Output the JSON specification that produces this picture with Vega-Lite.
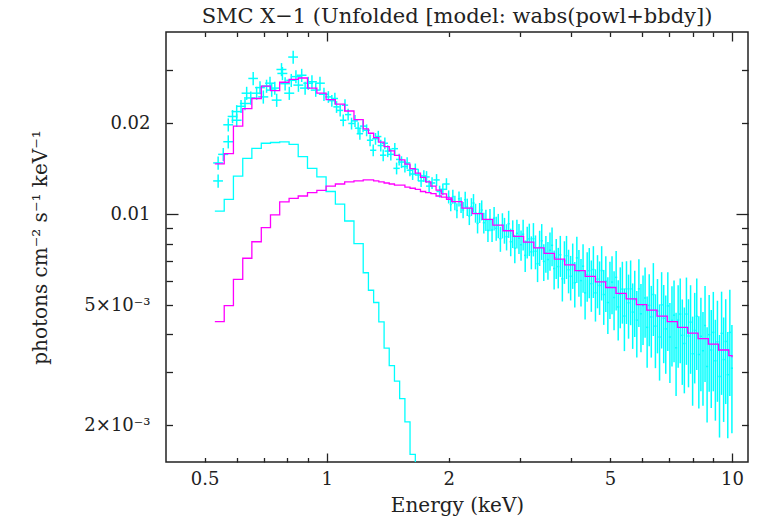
{
  "$schema": "https://vega.github.io/schema/vega-lite/v6.json",
  "width": 582,
  "height": 430,
  "autosize": {"type": "none"},
  "padding": {"left": 166, "top": 32, "right": 12, "bottom": 56},
  "background": "white",
  "config": {
    "view": {"stroke": "#222", "strokeWidth": 1.5},
    "font": "DejaVu Serif",
    "axis": {"grid": false, "domain": false, "labelFont": "DejaVu Serif", "titleFont": "DejaVu Serif", "labelColor": "#222", "titleColor": "#222", "titleFontWeight": "normal", "tickColor": "#222", "tickWidth": 1.3}
  },
  "title": {"text": "SMC X−1 (Unfolded [model: wabs(powl+bbdy])", "font": "DejaVu Serif", "fontSize": 21, "fontWeight": "normal", "color": "#222", "anchor": "middle", "frame": "group", "baseline": "alphabetic", "offset": -13},
  "datasets": {
    "pts": [
      {"e":0.540,"de":0.015,"f":0.0129,"s":0.00065},
      {"e":0.540,"de":0.015,"f":0.0148,"s":0.00074},
      {"e":0.556,"de":0.016,"f":0.0158,"s":0.00079},
      {"e":0.572,"de":0.016,"f":0.0174,"s":0.00087},
      {"e":0.572,"de":0.016,"f":0.0198,"s":0.00099},
      {"e":0.586,"de":0.016,"f":0.0211,"s":0.00106},
      {"e":0.600,"de":0.017,"f":0.0205,"s":0.00103},
      {"e":0.600,"de":0.017,"f":0.0219,"s":0.0011},
      {"e":0.615,"de":0.017,"f":0.0228,"s":0.00114},
      {"e":0.629,"de":0.018,"f":0.0233,"s":0.00117},
      {"e":0.635,"de":0.018,"f":0.0252,"s":0.00126},
      {"e":0.650,"de":0.018,"f":0.0243,"s":0.00122},
      {"e":0.659,"de":0.018,"f":0.0282,"s":0.00141},
      {"e":0.672,"de":0.019,"f":0.0252,"s":0.00126},
      {"e":0.685,"de":0.019,"f":0.0263,"s":0.00132},
      {"e":0.698,"de":0.020,"f":0.0245,"s":0.00123},
      {"e":0.711,"de":0.020,"f":0.0266,"s":0.00133},
      {"e":0.725,"de":0.020,"f":0.0272,"s":0.00136},
      {"e":0.732,"de":0.020,"f":0.0258,"s":0.00129},
      {"e":0.745,"de":0.021,"f":0.0262,"s":0.00131},
      {"e":0.753,"de":0.021,"f":0.0239,"s":0.0012},
      {"e":0.774,"de":0.022,"f":0.0302,"s":0.00151},
      {"e":0.778,"de":0.022,"f":0.0293,"s":0.00147},
      {"e":0.790,"de":0.022,"f":0.0271,"s":0.00136},
      {"e":0.809,"de":0.023,"f":0.0252,"s":0.00126},
      {"e":0.818,"de":0.023,"f":0.0278,"s":0.00139},
      {"e":0.827,"de":0.023,"f":0.0332,"s":0.00166},
      {"e":0.840,"de":0.024,"f":0.0286,"s":0.00143},
      {"e":0.852,"de":0.024,"f":0.0268,"s":0.00134},
      {"e":0.868,"de":0.024,"f":0.0289,"s":0.00145},
      {"e":0.885,"de":0.025,"f":0.0262,"s":0.00131},
      {"e":0.901,"de":0.025,"f":0.0272,"s":0.00136},
      {"e":0.920,"de":0.026,"f":0.0275,"s":0.00138},
      {"e":0.940,"de":0.026,"f":0.0258,"s":0.00129},
      {"e":0.963,"de":0.027,"f":0.0272,"s":0.00136},
      {"e":0.985,"de":0.028,"f":0.0250,"s":0.00125},
      {"e":1.010,"de":0.018,"f":0.0245,"s":0.0011},
      {"e":1.030,"de":0.019,"f":0.0238,"s":0.00107},
      {"e":1.048,"de":0.019,"f":0.0242,"s":0.00109},
      {"e":1.058,"de":0.019,"f":0.0227,"s":0.00102},
      {"e":1.080,"de":0.019,"f":0.0221,"s":0.00099},
      {"e":1.099,"de":0.020,"f":0.0205,"s":0.00092},
      {"e":1.110,"de":0.020,"f":0.0230,"s":0.00104},
      {"e":1.130,"de":0.020,"f":0.0214,"s":0.00096},
      {"e":1.152,"de":0.021,"f":0.0200,"s":0.0009},
      {"e":1.175,"de":0.021,"f":0.0204,"s":0.00092},
      {"e":1.196,"de":0.022,"f":0.0193,"s":0.00087},
      {"e":1.208,"de":0.022,"f":0.0185,"s":0.00083},
      {"e":1.230,"de":0.022,"f":0.0196,"s":0.00088},
      {"e":1.255,"de":0.023,"f":0.0190,"s":0.00086},
      {"e":1.280,"de":0.023,"f":0.0176,"s":0.00079},
      {"e":1.303,"de":0.023,"f":0.0163,"s":0.00073},
      {"e":1.320,"de":0.024,"f":0.0178,"s":0.0008},
      {"e":1.341,"de":0.024,"f":0.0181,"s":0.00081},
      {"e":1.360,"de":0.024,"f":0.0169,"s":0.00076},
      {"e":1.379,"de":0.025,"f":0.0157,"s":0.00071},
      {"e":1.392,"de":0.025,"f":0.0172,"s":0.00077},
      {"e":1.415,"de":0.025,"f":0.0162,"s":0.00073},
      {"e":1.440,"de":0.026,"f":0.0158,"s":0.00071},
      {"e":1.473,"de":0.027,"f":0.0165,"s":0.00074},
      {"e":1.488,"de":0.027,"f":0.0142,"s":0.00064},
      {"e":1.510,"de":0.027,"f":0.0152,"s":0.00068},
      {"e":1.530,"de":0.028,"f":0.0149,"s":0.00067},
      {"e":1.560,"de":0.028,"f":0.0144,"s":0.00065},
      {"e":1.580,"de":0.028,"f":0.0148,"s":0.00067},
      {"e":1.605,"de":0.029,"f":0.0140,"s":0.00063},
      {"e":1.630,"de":0.029,"f":0.0136,"s":0.00061},
      {"e":1.655,"de":0.030,"f":0.0141,"s":0.00063},
      {"e":1.683,"de":0.030,"f":0.0135,"s":0.00061},
      {"e":1.710,"de":0.031,"f":0.0129,"s":0.00058},
      {"e":1.737,"de":0.031,"f":0.0134,"s":0.0006},
      {"e":1.764,"de":0.032,"f":0.0133,"s":0.0006},
      {"e":1.790,"de":0.032,"f":0.0124,"s":0.00056},
      {"e":1.820,"de":0.033,"f":0.0127,"s":0.00057},
      {"e":1.867,"de":0.034,"f":0.0130,"s":0.00059},
      {"e":1.900,"de":0.034,"f":0.0119,"s":0.00054},
      {"e":1.935,"de":0.035,"f":0.0121,"s":0.00054},
      {"e":1.975,"de":0.036,"f":0.0126,"s":0.00057},
      {"e":2.000,"de":0.012,"f":0.01143,"s":0.00057},
      {"e":2.024,"de":0.012,"f":0.01078,"s":0.00055},
      {"e":2.048,"de":0.012,"f":0.01145,"s":0.00062},
      {"e":2.072,"de":0.012,"f":0.01092,"s":0.00060},
      {"e":2.096,"de":0.013,"f":0.01029,"s":0.00059},
      {"e":2.121,"de":0.013,"f":0.01126,"s":0.00065},
      {"e":2.146,"de":0.013,"f":0.01074,"s":0.00064},
      {"e":2.171,"de":0.013,"f":0.01034,"s":0.00064},
      {"e":2.197,"de":0.013,"f":0.01118,"s":0.00070},
      {"e":2.223,"de":0.013,"f":0.01057,"s":0.00070},
      {"e":2.249,"de":0.013,"f":0.00987,"s":0.00066},
      {"e":2.276,"de":0.014,"f":0.01059,"s":0.00072},
      {"e":2.303,"de":0.014,"f":0.01090,"s":0.00077},
      {"e":2.330,"de":0.014,"f":0.01011,"s":0.00073},
      {"e":2.357,"de":0.014,"f":0.00933,"s":0.00069},
      {"e":2.385,"de":0.014,"f":0.01013,"s":0.00077},
      {"e":2.413,"de":0.014,"f":0.01033,"s":0.00079},
      {"e":2.442,"de":0.015,"f":0.00938,"s":0.00074},
      {"e":2.471,"de":0.015,"f":0.00958,"s":0.00078},
      {"e":2.500,"de":0.015,"f":0.00884,"s":0.00074},
      {"e":2.529,"de":0.015,"f":0.00960,"s":0.00082},
      {"e":2.559,"de":0.015,"f":0.00887,"s":0.00077},
      {"e":2.589,"de":0.016,"f":0.00971,"s":0.00087},
      {"e":2.620,"de":0.016,"f":0.00899,"s":0.00082},
      {"e":2.651,"de":0.016,"f":0.00918,"s":0.00085},
      {"e":2.683,"de":0.016,"f":0.00830,"s":0.00079},
      {"e":2.714,"de":0.016,"f":0.00920,"s":0.00088},
      {"e":2.746,"de":0.016,"f":0.00886,"s":0.00087},
      {"e":2.779,"de":0.017,"f":0.00843,"s":0.00084},
      {"e":2.812,"de":0.017,"f":0.00931,"s":0.00096},
      {"e":2.845,"de":0.017,"f":0.00811,"s":0.00085},
      {"e":2.878,"de":0.017,"f":0.00864,"s":0.00091},
      {"e":2.912,"de":0.017,"f":0.00772,"s":0.00084},
      {"e":2.947,"de":0.018,"f":0.00865,"s":0.00095},
      {"e":2.982,"de":0.018,"f":0.00833,"s":0.00095},
      {"e":3.017,"de":0.018,"f":0.00793,"s":0.00091},
      {"e":3.053,"de":0.018,"f":0.00859,"s":0.00100},
      {"e":3.089,"de":0.019,"f":0.00731,"s":0.00087},
      {"e":3.125,"de":0.019,"f":0.00812,"s":0.00098},
      {"e":3.162,"de":0.019,"f":0.00829,"s":0.00102},
      {"e":3.199,"de":0.019,"f":0.00751,"s":0.00094},
      {"e":3.237,"de":0.019,"f":0.00830,"s":0.00105},
      {"e":3.275,"de":0.020,"f":0.00754,"s":0.00097},
      {"e":3.314,"de":0.020,"f":0.00686,"s":0.00090},
      {"e":3.353,"de":0.020,"f":0.00778,"s":0.00104},
      {"e":3.393,"de":0.020,"f":0.00817,"s":0.00111},
      {"e":3.433,"de":0.021,"f":0.00698,"s":0.00097},
      {"e":3.474,"de":0.021,"f":0.00744,"s":0.00104},
      {"e":3.515,"de":0.021,"f":0.00708,"s":0.00101},
      {"e":3.556,"de":0.021,"f":0.00760,"s":0.00110},
      {"e":3.598,"de":0.022,"f":0.00789,"s":0.00116},
      {"e":3.641,"de":0.022,"f":0.00661,"s":0.00098},
      {"e":3.684,"de":0.022,"f":0.00719,"s":0.00109},
      {"e":3.727,"de":0.022,"f":0.00671,"s":0.00103},
      {"e":3.771,"de":0.023,"f":0.00734,"s":0.00114},
      {"e":3.815,"de":0.023,"f":0.00611,"s":0.00097},
      {"e":3.860,"de":0.023,"f":0.00701,"s":0.00113},
      {"e":3.906,"de":0.023,"f":0.00729,"s":0.00119},
      {"e":3.952,"de":0.024,"f":0.00655,"s":0.00108},
      {"e":3.999,"de":0.024,"f":0.00623,"s":0.00105},
      {"e":4.046,"de":0.024,"f":0.00683,"s":0.00117},
      {"e":4.094,"de":0.025,"f":0.00593,"s":0.00102},
      {"e":4.142,"de":0.025,"f":0.00717,"s":0.00125},
      {"e":4.191,"de":0.025,"f":0.00647,"s":0.00114},
      {"e":4.241,"de":0.025,"f":0.00603,"s":0.00108},
      {"e":4.291,"de":0.026,"f":0.00673,"s":0.00123},
      {"e":4.341,"de":0.026,"f":0.00549,"s":0.00101},
      {"e":4.393,"de":0.026,"f":0.00631,"s":0.00118},
      {"e":4.445,"de":0.027,"f":0.00650,"s":0.00123},
      {"e":4.497,"de":0.027,"f":0.00589,"s":0.00114},
      {"e":4.550,"de":0.027,"f":0.00656,"s":0.00128},
      {"e":4.604,"de":0.028,"f":0.00549,"s":0.00108},
      {"e":4.658,"de":0.028,"f":0.00610,"s":0.00122},
      {"e":4.713,"de":0.028,"f":0.00581,"s":0.00117},
      {"e":4.769,"de":0.029,"f":0.00651,"s":0.00133},
      {"e":4.826,"de":0.029,"f":0.00542,"s":0.00112},
      {"e":4.883,"de":0.029,"f":0.00600,"s":0.00126},
      {"e":4.940,"de":0.030,"f":0.00510,"s":0.00109},
      {"e":4.999,"de":0.030,"f":0.00573,"s":0.00123},
      {"e":5.058,"de":0.030,"f":0.00596,"s":0.00130},
      {"e":5.117,"de":0.031,"f":0.00530,"s":0.00117},
      {"e":5.178,"de":0.031,"f":0.00618,"s":0.00138},
      {"e":5.239,"de":0.031,"f":0.00493,"s":0.00111},
      {"e":5.301,"de":0.032,"f":0.00543,"s":0.00124},
      {"e":5.364,"de":0.032,"f":0.00565,"s":0.00131},
      {"e":5.427,"de":0.033,"f":0.00460,"s":0.00108},
      {"e":5.491,"de":0.033,"f":0.00566,"s":0.00133},
      {"e":5.556,"de":0.033,"f":0.00509,"s":0.00122},
      {"e":5.622,"de":0.034,"f":0.00566,"s":0.00137},
      {"e":5.688,"de":0.034,"f":0.00474,"s":0.00116},
      {"e":5.755,"de":0.035,"f":0.00521,"s":0.00129},
      {"e":5.823,"de":0.035,"f":0.00446,"s":0.00111},
      {"e":5.892,"de":0.035,"f":0.00566,"s":0.00143},
      {"e":5.962,"de":0.036,"f":0.00468,"s":0.00119},
      {"e":6.032,"de":0.036,"f":0.00498,"s":0.00129},
      {"e":6.103,"de":0.037,"f":0.00528,"s":0.00138},
      {"e":6.175,"de":0.037,"f":0.00422,"s":0.00112},
      {"e":6.248,"de":0.037,"f":0.00499,"s":0.00134},
      {"e":6.322,"de":0.038,"f":0.00457,"s":0.00122},
      {"e":6.397,"de":0.038,"f":0.00542,"s":0.00147},
      {"e":6.472,"de":0.039,"f":0.00426,"s":0.00117},
      {"e":6.549,"de":0.039,"f":0.00478,"s":0.00132},
      {"e":6.626,"de":0.040,"f":0.00392,"s":0.00111},
      {"e":6.704,"de":0.040,"f":0.00501,"s":0.00142},
      {"e":6.784,"de":0.041,"f":0.00452,"s":0.00131},
      {"e":6.863,"de":0.041,"f":0.00417,"s":0.00121},
      {"e":6.944,"de":0.042,"f":0.00497,"s":0.00145},
      {"e":7.027,"de":0.042,"f":0.00392,"s":0.00116},
      {"e":7.110,"de":0.043,"f":0.00445,"s":0.00132},
      {"e":7.194,"de":0.043,"f":0.00463,"s":0.00140},
      {"e":7.278,"de":0.044,"f":0.00361,"s":0.00111},
      {"e":7.364,"de":0.044,"f":0.00446,"s":0.00136},
      {"e":7.451,"de":0.045,"f":0.00467,"s":0.00146},
      {"e":7.539,"de":0.045,"f":0.00397,"s":0.00125},
      {"e":7.628,"de":0.046,"f":0.00373,"s":0.00118},
      {"e":7.719,"de":0.046,"f":0.00467,"s":0.00150},
      {"e":7.810,"de":0.047,"f":0.00395,"s":0.00128},
      {"e":7.902,"de":0.047,"f":0.00439,"s":0.00143},
      {"e":7.995,"de":0.048,"f":0.00345,"s":0.00113},
      {"e":8.090,"de":0.049,"f":0.00412,"s":0.00137},
      {"e":8.185,"de":0.049,"f":0.00459,"s":0.00154},
      {"e":8.282,"de":0.050,"f":0.00343,"s":0.00116},
      {"e":8.380,"de":0.050,"f":0.00394,"s":0.00135},
      {"e":8.479,"de":0.051,"f":0.00353,"s":0.00121},
      {"e":8.579,"de":0.051,"f":0.00428,"s":0.00150},
      {"e":8.680,"de":0.052,"f":0.00313,"s":0.00109},
      {"e":8.783,"de":0.053,"f":0.00399,"s":0.00141},
      {"e":8.887,"de":0.053,"f":0.00355,"s":0.00127},
      {"e":8.992,"de":0.054,"f":0.00406,"s":0.00147},
      {"e":9.098,"de":0.055,"f":0.00327,"s":0.00120},
      {"e":9.205,"de":0.055,"f":0.00378,"s":0.00139},
      {"e":9.314,"de":0.056,"f":0.00290,"s":0.00108},
      {"e":9.424,"de":0.057,"f":0.00403,"s":0.00151},
      {"e":9.535,"de":0.057,"f":0.00330,"s":0.00125},
      {"e":9.648,"de":0.058,"f":0.00379,"s":0.00144},
      {"e":9.762,"de":0.059,"f":0.00294,"s":0.00113},
      {"e":9.877,"de":0.059,"f":0.00406,"s":0.00156},
      {"e":9.994,"de":0.060,"f":0.00309,"s":0.00121}
    ],
    "bb": [
      {"e":0.530,"f":0.01025},{"e":0.559,"f":0.01121},{"e":0.589,"f":0.01339},{"e":0.621,"f":0.01533},
      {"e":0.654,"f":0.01654},{"e":0.690,"f":0.01720},{"e":0.727,"f":0.01730},{"e":0.766,"f":0.01739},
      {"e":0.808,"f":0.01705},{"e":0.851,"f":0.01552},{"e":0.897,"f":0.01420},{"e":0.946,"f":0.01330},
      {"e":0.997,"f":0.01190},{"e":1.051,"f":0.01080},{"e":1.108,"f":0.00950},{"e":1.168,"f":0.00800},
      {"e":1.231,"f":0.00640},{"e":1.268,"f":0.00560},{"e":1.306,"f":0.00510},{"e":1.345,"f":0.00440},
      {"e":1.386,"f":0.00360},{"e":1.427,"f":0.00315},{"e":1.470,"f":0.00280},{"e":1.514,"f":0.00245},
      {"e":1.560,"f":0.00205},{"e":1.606,"f":0.00160},{"e":1.655,"f":0.00120},{"e":1.704,"f":0.00090},
      {"e":1.755,"f":0.00090}
    ],
    "mg": [
      {"c":"tot","e":0.530,"f":0.0147},{"c":"tot","e":0.559,"f":0.0159},{"c":"tot","e":0.589,"f":0.0196},
      {"c":"tot","e":0.621,"f":0.0224},{"c":"tot","e":0.654,"f":0.0242},{"c":"tot","e":0.690,"f":0.0266},
      {"c":"tot","e":0.727,"f":0.0257},{"c":"tot","e":0.766,"f":0.0274},{"c":"tot","e":0.808,"f":0.0280},
      {"c":"tot","e":0.851,"f":0.0283},{"c":"tot","e":0.897,"f":0.0262},{"c":"tot","e":0.946,"f":0.0252},
      {"c":"tot","e":0.997,"f":0.0240},{"c":"tot","e":1.051,"f":0.0232},{"c":"tot","e":1.108,"f":0.0220},
      {"c":"tot","e":1.168,"f":0.0206},{"c":"tot","e":1.231,"f":0.0192},{"c":"tot","e":1.268,"f":0.01856},
      {"c":"tot","e":1.306,"f":0.01795},{"c":"tot","e":1.345,"f":0.01735},{"c":"tot","e":1.386,"f":0.01677},
      {"c":"tot","e":1.427,"f":0.01622},{"c":"tot","e":1.470,"f":0.01568},{"c":"tot","e":1.514,"f":0.01516},
      {"c":"tot","e":1.560,"f":0.01466},{"c":"tot","e":1.606,"f":0.01417},{"c":"tot","e":1.655,"f":0.01370},
      {"c":"tot","e":1.704,"f":0.01325},{"c":"tot","e":1.755,"f":0.01281},{"c":"tot","e":1.808,"f":0.01239},
      {"c":"tot","e":1.862,"f":0.01203},{"c":"tot","e":1.918,"f":0.01168},{"c":"tot","e":1.976,"f":0.01134},
      {"c":"tot","e":2.035,"f":0.01101},{"c":"tot","e":2.157,"f":0.01049},{"c":"tot","e":2.287,"f":0.01005},
      {"c":"tot","e":2.424,"f":0.00962},{"c":"tot","e":2.570,"f":0.00921},{"c":"tot","e":2.724,"f":0.00882},
      {"c":"tot","e":2.887,"f":0.00845},{"c":"tot","e":3.061,"f":0.00809},{"c":"tot","e":3.244,"f":0.00774},
      {"c":"tot","e":3.439,"f":0.00742},{"c":"tot","e":3.646,"f":0.00710},{"c":"tot","e":3.865,"f":0.00680},
      {"c":"tot","e":4.097,"f":0.00651},{"c":"tot","e":4.343,"f":0.00623},{"c":"tot","e":4.603,"f":0.00597},
      {"c":"tot","e":4.880,"f":0.00572},{"c":"tot","e":5.173,"f":0.00547},{"c":"tot","e":5.483,"f":0.00524},
      {"c":"tot","e":5.812,"f":0.00502},{"c":"tot","e":6.161,"f":0.00481},{"c":"tot","e":6.531,"f":0.00460},
      {"c":"tot","e":6.923,"f":0.00441},{"c":"tot","e":7.338,"f":0.00422},{"c":"tot","e":7.778,"f":0.00404},
      {"c":"tot","e":8.245,"f":0.00387},{"c":"tot","e":8.740,"f":0.00371},{"c":"tot","e":9.264,"f":0.00355},
      {"c":"tot","e":9.820,"f":0.00340},{"c":"tot","e":10.00,"f":0.00336},
      {"c":"pl","e":0.530,"f":0.00441},{"c":"pl","e":0.559,"f":0.00498},{"c":"pl","e":0.589,"f":0.00609},
      {"c":"pl","e":0.621,"f":0.00715},{"c":"pl","e":0.654,"f":0.00811},{"c":"pl","e":0.690,"f":0.00903},
      {"c":"pl","e":0.727,"f":0.00995},{"c":"pl","e":0.766,"f":0.01100},{"c":"pl","e":0.808,"f":0.01130},
      {"c":"pl","e":0.851,"f":0.01150},{"c":"pl","e":0.897,"f":0.01180},{"c":"pl","e":0.946,"f":0.01200},
      {"c":"pl","e":0.997,"f":0.01240},{"c":"pl","e":1.051,"f":0.01260},{"c":"pl","e":1.108,"f":0.01280},
      {"c":"pl","e":1.168,"f":0.01290},{"c":"pl","e":1.231,"f":0.01300},{"c":"pl","e":1.268,"f":0.01300},
      {"c":"pl","e":1.306,"f":0.01290},{"c":"pl","e":1.345,"f":0.01280},{"c":"pl","e":1.386,"f":0.01270},
      {"c":"pl","e":1.427,"f":0.01260},{"c":"pl","e":1.470,"f":0.01250},{"c":"pl","e":1.514,"f":0.01250},
      {"c":"pl","e":1.560,"f":0.01230},{"c":"pl","e":1.606,"f":0.01220},{"c":"pl","e":1.655,"f":0.01210},
      {"c":"pl","e":1.704,"f":0.01190},{"c":"pl","e":1.755,"f":0.01180},{"c":"pl","e":1.808,"f":0.01170},
      {"c":"pl","e":1.862,"f":0.01150},{"c":"pl","e":1.918,"f":0.01140},{"c":"pl","e":1.976,"f":0.01120},
      {"c":"pl","e":2.035,"f":0.01101}
    ]
  },
  "resolve": {"axis": {"x": "independent", "y": "independent"}},
  "layer": [
    {
      "data": {"name": "pts"},
      "mark": {"type": "errorbar", "color": "#00ffff", "thickness": 1.5},
      "encoding": {
        "x": {"field": "e", "type": "quantitative", "scale": {"type": "log", "domain": [0.4016, 10.95], "nice": false},
              "axis": {"orient": "bottom", "values": [0.5, 1, 2, 5, 10], "format": "~g", "ticks": false, "labelPadding": 8, "labelFontSize": 18, "labelFlush": false, "labelOverlap": false, "title": "Energy (keV)", "titleFontSize": 20, "titleY": 43, "titleBaseline": "middle"}},
        "xError": {"field": "de"},
        "y": {"field": "f", "type": "quantitative", "scale": {"type": "log", "domain": [0.00151, 0.0402], "nice": false},
              "axis": {"orient": "left", "values": [0.002, 0.005, 0.01, 0.02], "ticks": false, "labelPadding": 16, "labelFontSize": 18, "labelOverlap": false, "labelExpr": "datum.value == 0.005 ? '5×10⁻³' : datum.value == 0.002 ? '2×10⁻³' : format(datum.value, '~g')", "title": "photons cm⁻² s⁻¹ keV⁻¹", "titleFontSize": 20, "titleX": -126, "titleBaseline": "middle"}}
      }
    },
    {
      "data": {"name": "pts"},
      "mark": {"type": "errorbar", "color": "#00ffff", "thickness": 1.5},
      "encoding": {
        "x": {"field": "e", "type": "quantitative", "scale": {"type": "log", "domain": [0.4016, 10.95], "nice": false},
              "axis": {"orient": "bottom", "values": [0.5, 0.6, 0.7, 0.8, 0.9, 2, 3, 4, 5, 6, 7, 8, 9], "labels": false, "tickSize": -4.5, "title": null}},
        "y": {"field": "f", "type": "quantitative", "scale": {"type": "log", "domain": [0.00151, 0.0402], "nice": false},
              "axis": {"orient": "left", "values": [0.002, 0.003, 0.004, 0.005, 0.006, 0.007, 0.008, 0.009, 0.02, 0.03], "labels": false, "tickSize": -6.5, "title": null}},
        "yError": {"field": "s"}
      }
    },
    {
      "data": {"name": "bb"},
      "mark": {"type": "line", "interpolate": "step-after", "clip": true, "strokeWidth": 1.3, "color": "#00ffff"},
      "encoding": {
        "x": {"field": "e", "type": "quantitative", "scale": {"type": "log", "domain": [0.4016, 10.95], "nice": false},
              "axis": {"orient": "bottom", "values": [1, 10], "labels": false, "tickSize": -9, "title": null}},
        "y": {"field": "f", "type": "quantitative", "scale": {"type": "log", "domain": [0.00151, 0.0402], "nice": false},
              "axis": {"orient": "left", "values": [0.01], "labels": false, "tickSize": -12, "title": null}}
      }
    },
    {
      "data": {"name": "mg"},
      "mark": {"type": "line", "interpolate": "step-after", "clip": true, "strokeWidth": 1.3, "color": "#ff00ff"},
      "encoding": {
        "x": {"field": "e", "type": "quantitative", "scale": {"type": "log", "domain": [0.4016, 10.95], "nice": false},
              "axis": {"orient": "top", "values": [0.5, 0.6, 0.7, 0.8, 0.9, 2, 3, 4, 5, 6, 7, 8, 9], "labels": false, "tickSize": -4.5, "title": null}},
        "y": {"field": "f", "type": "quantitative", "scale": {"type": "log", "domain": [0.00151, 0.0402], "nice": false},
              "axis": {"orient": "right", "values": [0.002, 0.003, 0.004, 0.005, 0.006, 0.007, 0.008, 0.009, 0.02, 0.03], "labels": false, "tickSize": -6.5, "title": null}},
        "detail": {"field": "c"}
      }
    },
    {
      "data": {"name": "bb"},
      "mark": {"type": "line", "clip": true, "strokeOpacity": 0},
      "encoding": {
        "x": {"field": "e", "type": "quantitative", "scale": {"type": "log", "domain": [0.4016, 10.95], "nice": false},
              "axis": {"orient": "top", "values": [1, 10], "labels": false, "tickSize": -9, "title": null}},
        "y": {"field": "f", "type": "quantitative", "scale": {"type": "log", "domain": [0.00151, 0.0402], "nice": false},
              "axis": {"orient": "right", "values": [0.01], "labels": false, "tickSize": -12, "title": null}}
      }
    }
  ]
}
